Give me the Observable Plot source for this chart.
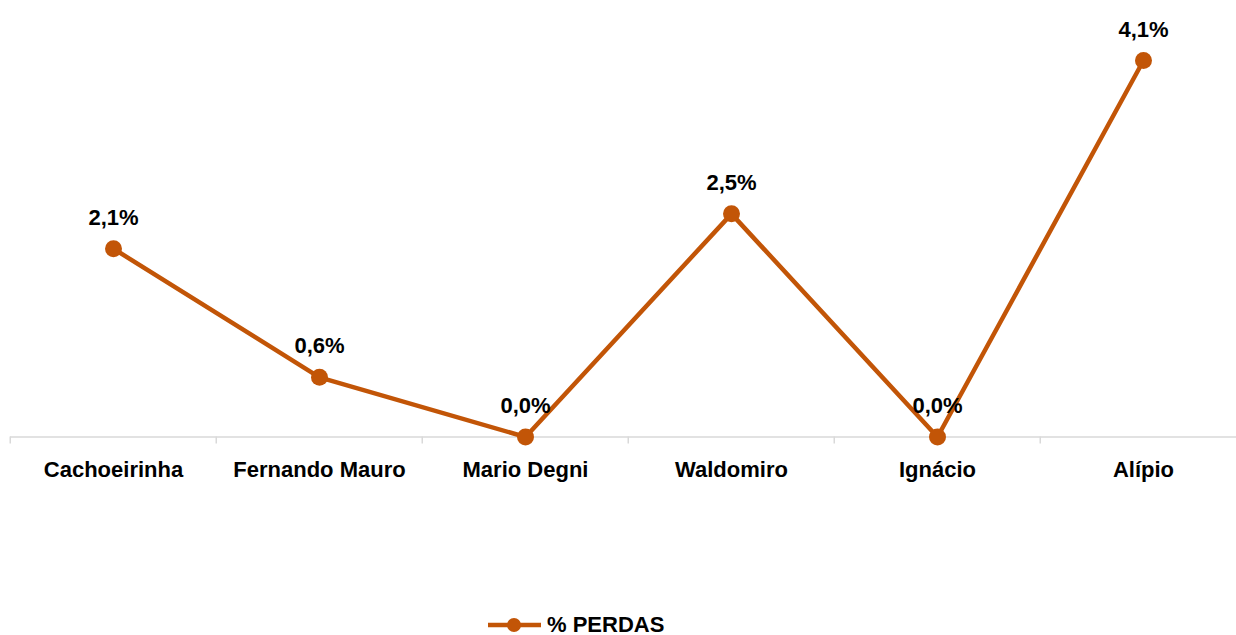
<!DOCTYPE html>
<html>
<head>
<meta charset="utf-8">
<script src="https://cdn.jsdelivr.net/npm/d3@7"></script>
<script src="https://cdn.jsdelivr.net/npm/@observablehq/plot@0.6"></script>
<style>
  html, body { margin: 0; padding: 0; background: #fff; }
  body { width: 1236px; height: 635px; overflow: hidden; font-family: "Liberation Sans", Arial, sans-serif; }
  #chart { height: 600px; }
  #legend { height: 35px; display: flex; align-items: center; margin-left: 488px; margin-top: 7px; font-size: 22px; font-weight: bold; color: #000; }
  #legend svg { margin-right: 5px; }
</style>
</head>
<body>
<div id="chart"></div>
<div id="legend"></div>
<script>
const categories = ["Cachoeirinha", "Fernando Mauro", "Mario Degni", "Waldomiro", "Ignácio", "Alípio"];
const values = [2.05, 0.65, 0.0, 2.43, 0.0, 4.1];
const labels = ["2,1%", "0,6%", "0,0%", "2,5%", "0,0%", "4,1%"];
const seriesName = "% PERDAS";
const color = "#c25507";
const font = "'Liberation Sans', Arial, sans-serif";

const data = categories.map((c, i) => ({cat: c, value: values[i], label: labels[i]}));

const chart = Plot.plot({
  width: 1236,
  height: 600,
  marginTop: 60,
  marginBottom: 163.5,
  marginLeft: 10,
  marginRight: 0,
  style: {fontFamily: font, background: "#fff"},
  x: {type: "band", domain: categories, range: [8, 1247], padding: 0, axis: null},
  y: {domain: [0, 4.1], axis: null},
  marks: [
    Plot.ruleY([0], {stroke: "#d9d9d9", strokeWidth: 1.5}),
    Plot.axisX({tickSize: 7, tickFormat: () => "", label: null, dx: -103.25, stroke: "#d9d9d9", strokeWidth: 1.5}),
    Plot.axisX({tickSize: 0, tickPadding: 24, label: null, fontSize: 22, fontWeight: "bold", fill: "#000"}),
    Plot.line(data, {x: "cat", y: "value", stroke: color, strokeWidth: 4.5}),
    Plot.dot(data, {x: "cat", y: "value", r: 8.5, fill: color}),
    Plot.text(data, {x: "cat", y: "value", text: "label", dy: -31, fontSize: 22, fontWeight: "bold", fill: "#000"})
  ]
});
document.getElementById("chart").appendChild(chart);

const lg = document.getElementById("legend");
lg.innerHTML = `<svg width="54" height="20"><line x1="0" y1="10" x2="53" y2="10" stroke="${color}" stroke-width="4.5"/><circle cx="26" cy="10" r="7" fill="${color}"/></svg><span>${seriesName}</span>`;
</script>
</body>
</html>
